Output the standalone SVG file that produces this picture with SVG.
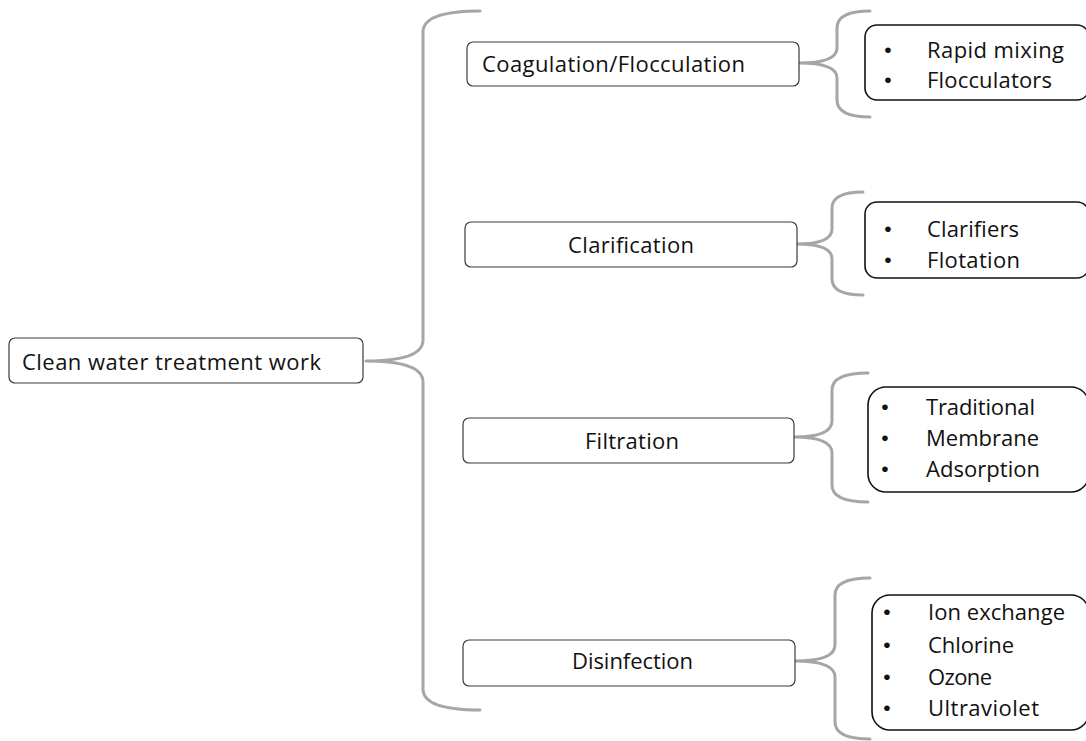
<svg xmlns="http://www.w3.org/2000/svg" width="1086" height="741" viewBox="0 0 1086 741">
<style>
.bg{fill:#fff}
.brace{fill:none;stroke:#a6a6a6;stroke-width:3;stroke-linecap:round;stroke-linejoin:round}
.box{fill:#fff;stroke:#3a3a3a;stroke-width:1.2}
.leaf{fill:#fff;stroke:#111;stroke-width:1.6}
text{font-family:"Open Sans","Liberation Sans",sans-serif;font-size:22px;fill:#111}
.b{font-family:"Liberation Sans",sans-serif;font-size:21px}
</style>
<rect class="bg" x="0" y="0" width="1086" height="741"/>
<g id="connectors">
<path class="brace" d="M480,11 Q423,11 423,32 L423,340 Q423,361 366,361 Q423,361 423,382 L423,689 Q423,710 480,710"/>
<path class="brace" d="M870,11 Q837,11 837,28 L837,48 Q837,63 799,63 Q837,63 837,78 L837,100 Q837,117 870,117"/>
<path class="brace" d="M863,192 Q832,192 832,208 L832,229 Q832,244 797,244 Q832,244 832,259 L832,279 Q832,295 863,295"/>
<path class="brace" d="M868,373 Q832,373 832,390 L832,421 Q832,437 794,437 Q832,437 832,453 L832,485 Q832,502 868,502"/>
<path class="brace" d="M870,578 Q835,578 835,595 L835,645 Q835,661 795,661 Q835,661 835,677 L835,722 Q835,739 870,739"/>
</g>
<g id="root">
<rect class="box" x="9" y="338" width="354" height="45" rx="6"/>
<text x="22" y="370" textLength="299">Clean water treatment work</text>
</g>
<g id="coagulation">
<rect class="box" x="467" y="42" width="332" height="44" rx="6"/>
<text x="482" y="72" textLength="263">Coagulation/Flocculation</text>
</g>
<g id="clarification">
<rect class="box" x="465" y="222" width="332" height="45" rx="6"/>
<text x="568" y="253" textLength="126">Clarification</text>
</g>
<g id="filtration">
<rect class="box" x="463" y="418" width="331" height="45" rx="6"/>
<text x="585" y="449" textLength="94">Filtration</text>
</g>
<g id="disinfection">
<rect class="box" x="463" y="640" width="332" height="46" rx="6"/>
<text x="572" y="669" textLength="121">Disinfection</text>
</g>
<g id="leaf-coagulation">
<rect class="leaf" x="865" y="25" width="224" height="75" rx="12"/>
<text class="b" x="888" y="57" text-anchor="middle">•</text>
<text x="927" y="58" textLength="137">Rapid mixing</text>
<text class="b" x="888" y="87" text-anchor="middle">•</text>
<text x="927" y="88" textLength="125">Flocculators</text>
</g>
<g id="leaf-clarification">
<rect class="leaf" x="865" y="202" width="224" height="76" rx="12"/>
<text class="b" x="888" y="236" text-anchor="middle">•</text>
<text x="927" y="237" textLength="92">Clarifiers</text>
<text class="b" x="888" y="267" text-anchor="middle">•</text>
<text x="927" y="268" textLength="93">Flotation</text>
</g>
<g id="leaf-filtration">
<rect class="leaf" x="868" y="387" width="221" height="105" rx="18"/>
<text class="b" x="885" y="414" text-anchor="middle">•</text>
<text x="926" y="415" textLength="109">Traditional</text>
<text class="b" x="885" y="445" text-anchor="middle">•</text>
<text x="926" y="446" textLength="113">Membrane</text>
<text class="b" x="885" y="476" text-anchor="middle">•</text>
<text x="926" y="477" textLength="114">Adsorption</text>
</g>
<g id="leaf-disinfection">
<rect class="leaf" x="872" y="595" width="217" height="135" rx="18"/>
<text class="b" x="887" y="619" text-anchor="middle">•</text>
<text x="928" y="620" textLength="137">Ion exchange</text>
<text class="b" x="887" y="652" text-anchor="middle">•</text>
<text x="928" y="653" textLength="86">Chlorine</text>
<text class="b" x="887" y="684" text-anchor="middle">•</text>
<text x="928" y="685" textLength="64">Ozone</text>
<text class="b" x="887" y="715" text-anchor="middle">•</text>
<text x="928" y="716" textLength="111">Ultraviolet</text>
</g>
</svg>
